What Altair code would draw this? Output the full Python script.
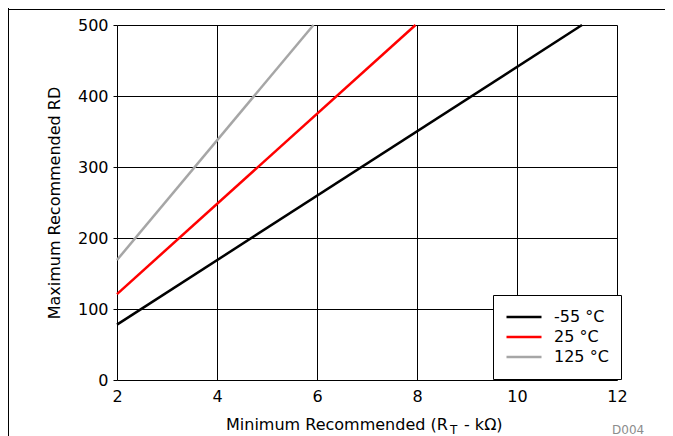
import altair as alt
import pandas as pd

# ---- data ----
series = ["-55 °C", "25 °C", "125 °C"]
colors = ["#000000", "#FF0000", "#A6A6A6"]
x_start = [2.0, 2.0, 2.0]
y_start = [78, 121, 169]
x_end = [11.3, 7.97, 5.93]
y_end = [500, 500, 500]
x_ticks = [2, 4, 6, 8, 10, 12]
y_ticks = [0, 100, 200, 300, 400, 500]

rows = []
for s, xs, ys, xe, ye in zip(series, x_start, y_start, x_end, y_end):
    rows.append({"series": s, "x": xs, "y": ys, "o": 0})
    rows.append({"series": s, "x": xe, "y": ye, "o": 1})
df = pd.DataFrame(rows)

FONT = "DejaVu Sans"
W, H = 500, 355

lines = alt.Chart(df).mark_line(strokeWidth=2.5).encode(
    x=alt.X("x:Q", scale=alt.Scale(domain=[2, 12], nice=False, zero=False),
            axis=alt.Axis(values=x_ticks, title=None, ticks=False, labelPadding=8,
                          labelFlush=False,
                          grid=True, gridColor="black", gridWidth=1, gridOpacity=1,
                          domain=False, labelFontSize=16, labelColor="black",
                          labelFont=FONT, format="d")),
    y=alt.Y("y:Q", scale=alt.Scale(domain=[0, 500], nice=False),
            axis=alt.Axis(values=y_ticks, title="Maximum Recommended RD", ticks=True,
                          tickSize=4, tickColor="black", tickWidth=1, labelPadding=5,
                          labelFlush=False,
                          grid=True, gridColor="black", gridWidth=1, gridOpacity=1,
                          domain=False, labelFontSize=16, labelColor="black",
                          labelFont=FONT, titleFont=FONT, titleFontSize=16,
                          titleFontWeight="normal", titleColor="black", titlePadding=15,
                          format="d")),
    color=alt.Color("series:N", sort=series,
                    scale=alt.Scale(domain=series, range=colors),
                    legend=alt.Legend(title=None, orient="none", legendX=376, legendY=270,
                                      symbolType="stroke", symbolSize=1225,
                                      symbolStrokeWidth=2.5, clipHeight=20,
                                      labelFontSize=16, labelFont=FONT, labelColor="black",
                                      labelOffset=11, padding=12, rowPadding=0,
                                      strokeColor="black", fillColor="white")),
    order="o:Q",
)

one = pd.DataFrame({"k": [0]})

title1 = alt.Chart(one).mark_text(text="Minimum Recommended (R", align="left",
                                  baseline="alphabetic", font=FONT, fontSize=16,
                                  color="black").encode(x=alt.value(109), y=alt.value(405))
title2 = alt.Chart(one).mark_text(text="T", align="left", baseline="alphabetic",
                                  font=FONT, fontSize=12, color="black").encode(
    x=alt.value(333), y=alt.value(409))
title3 = alt.Chart(one).mark_text(text="- kΩ)", align="left", baseline="alphabetic",
                                  font=FONT, fontSize=16, color="black").encode(
    x=alt.value(347), y=alt.value(405))
code = alt.Chart(one).mark_text(text="D004", align="left", baseline="alphabetic",
                                font=FONT, fontSize=12, color="#8C8C8C").encode(
    x=alt.value(495), y=alt.value(409))

hline = alt.Chart(one).mark_rule(color="black", strokeWidth=1).encode(
    x=alt.value(-109), x2=alt.value(560), y=alt.value(-15.5))
vline = alt.Chart(one).mark_rule(color="black", strokeWidth=1).encode(
    x=alt.value(-108.5), y=alt.value(-20), y2=alt.value(420))

chart = alt.layer(lines, title1, title2, title3, code, hline, vline).properties(
    width=W, height=H,
    autosize=alt.AutoSizeParams(type="none"),
    padding={"left": 109, "top": 17, "right": 48, "bottom": 56},
).configure_view(
    stroke="black", strokeWidth=2.5
).configure_legend(
    strokeWidth=2
).configure(font=FONT)

chart.save("out.html", embed_options={"renderer": "svg", "actions": False})
